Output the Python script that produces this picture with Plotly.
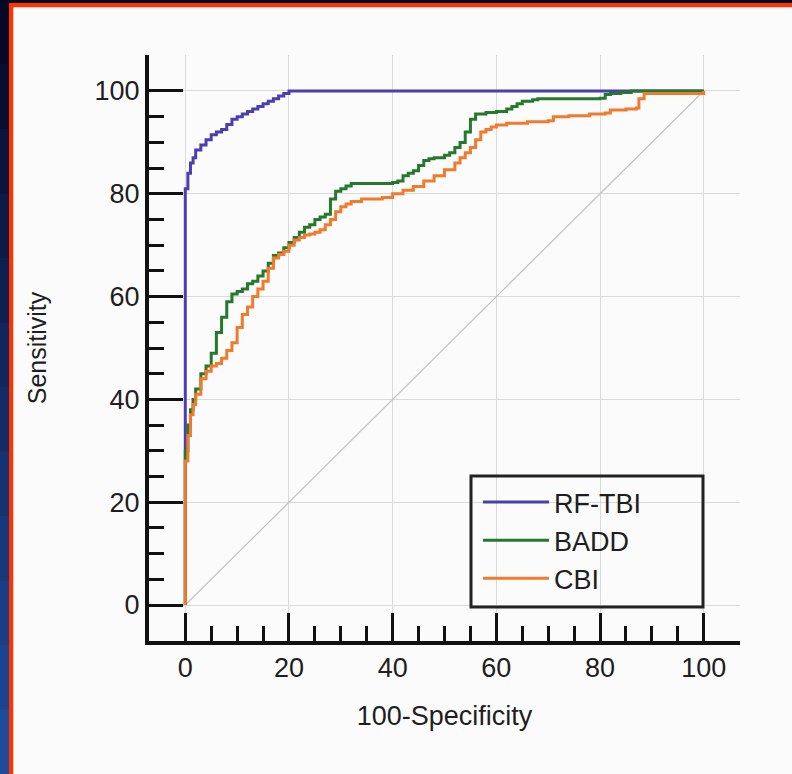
import plotly.graph_objects as go

# ---- data ----
rf_x = [0, 0, 0.5, 1, 1.5, 2, 3, 4, 5, 6, 7, 8, 9, 10, 11, 12, 13, 14, 15, 16, 17, 18, 19, 20, 100]
rf_y = [0, 81, 84, 86, 87, 88.5, 89.5, 90.5, 91.5, 92, 92.5, 93.5, 94.5, 95, 95.5, 96, 96.5, 97, 97.5, 98, 98.5, 99, 99.5, 100, 100]

badd_x = [0, 0, 0.5, 1, 1.5, 2, 3, 4, 5, 6, 7, 8, 9, 10, 11, 12, 13, 14, 15, 16, 17, 18, 19, 20,
          21, 22, 23, 24, 25, 26, 27, 28, 29, 30, 31, 32, 36, 40, 41, 42, 43, 44, 45, 46, 47, 48,
          50, 51, 52, 53, 54, 55, 56, 58, 60, 62, 63, 64, 65, 67, 68, 76, 80, 81, 82, 84, 86, 100]
badd_y = [0, 30, 35, 38, 40, 42, 45, 46.5, 49, 53, 56, 59, 60.5, 61, 61.5, 62.5, 63, 64, 65, 66.5, 68, 68.5, 69.5, 70.5,
          71.5, 72.5, 73.5, 74, 75, 75.5, 76, 79, 80.5, 81, 81.5, 82, 82, 82.2, 82.5, 83.5, 84, 84.5, 85.5, 86.5, 86.8, 87,
          87.5, 88, 89, 90, 92, 94.5, 95.5, 95.8, 96, 96.5, 97, 97.5, 98, 98.3, 98.5, 98.5, 98.6, 99.3, 99.5, 99.7, 100, 100]

cbi_x = [0, 0, 0.5, 1, 1.5, 2, 3, 4, 5, 6, 7, 8, 9, 10, 11, 12, 13, 14, 15, 16, 17, 18, 19, 20,
         21, 22, 23, 24, 25, 26, 27, 28, 29, 30, 31, 32, 34, 36, 38, 40, 42, 44, 46, 48, 50, 52,
         53, 54, 55, 56, 57, 58, 59, 60, 62, 66, 70, 71, 74, 78, 81, 82, 85, 87, 87.5, 88.5, 99, 100]
cbi_y = [0, 28, 33, 37, 39, 41, 44, 45.5, 46.5, 47, 48, 49.5, 51, 54, 56.5, 58, 60, 61.5, 63, 65.5, 67.5, 68.2, 68.8, 70,
         71, 71.5, 72, 72.2, 72.5, 73, 74, 75, 76.5, 77.5, 78, 78.5, 79, 79, 79.3, 80, 80.7, 81.4, 82.5, 83.5, 84.7, 86,
         87, 88, 89, 90.5, 92, 92.5, 93, 93.4, 93.7, 94, 94.2, 95, 95.2, 95.5, 95.7, 96.3, 96.5, 96.7, 98.5, 99.5, 99.5, 100]

diag_x = [0, 100]
diag_y = [0, 100]

names = ["RF-TBI", "BADD", "CBI"]
colors = ["#4b3fae", "#25792c", "#f07a2e"]

FONT = "Liberation Sans, Arial, sans-serif"
TXT = "#1e1e1e"

fig = go.Figure()
fig.add_trace(go.Scatter(x=diag_x, y=diag_y, mode="lines", showlegend=False,
                         line=dict(color="#c4c4c4", width=1.3), hoverinfo="skip"))
for xs, ys, nm, c in [(rf_x, rf_y, names[0], colors[0]),
                      (badd_x, badd_y, names[1], colors[1]),
                      (cbi_x, cbi_y, names[2], colors[2])]:
    fig.add_trace(go.Scatter(x=xs, y=ys, mode="lines", name=nm,
                             line=dict(color=c, width=3, shape="hv")))

# background decorations (paper coordinates)
L, R, T, B = 149, 740, 55, 641
W, H = 792, 774
pw, ph = R - L, B - T
def px(xp):
    return (xp - L) / pw
def py(yp):
    return 1 - (yp - T) / ph

shapes = []
# left gradient strip
n = 12
for i in range(n):
    f = i / (n - 1)
    r = int(6 + f * (30 - 6)); g = int(8 + f * (75 - 8)); b = int(40 + f * (155 - 40))
    shapes.append(dict(type="rect", xref="paper", yref="paper", layer="below",
                       x0=px(0), x1=px(10), y0=py(i * H / n), y1=py((i + 1) * H / n + 1),
                       fillcolor=f"rgb({r},{g},{b})", line=dict(width=0)))
# top dark strip
shapes.append(dict(type="rect", xref="paper", yref="paper", layer="below",
                   x0=px(0), x1=px(W), y0=py(0), y1=py(4),
                   fillcolor="#06081f", line=dict(width=0)))
# red frame (top + left)
shapes.append(dict(type="rect", xref="paper", yref="paper", layer="below",
                   x0=px(9), x1=px(W), y0=py(3), y1=py(7.5),
                   fillcolor="#ff3300", line=dict(width=0)))
shapes.append(dict(type="rect", xref="paper", yref="paper", layer="below",
                   x0=px(9), x1=px(13.5), y0=py(3), y1=py(H),
                   fillcolor="#ff3300", line=dict(width=0)))
# white panel
shapes.append(dict(type="rect", xref="paper", yref="paper", layer="below",
                   x0=px(13.5), x1=px(W), y0=py(7.5), y1=py(H),
                   fillcolor="#fbfbfb", line=dict(width=0)))
# legend box
shapes.append(dict(type="rect", xref="paper", yref="paper", layer="above",
                   x0=px(471), x1=px(703), y0=py(476), y1=py(607),
                   fillcolor="rgba(0,0,0,0)", line=dict(color="#222222", width=3)))

minor_vals = [v for v in range(5, 100, 5) if v % 20]

axis_common = dict(
    range=[-7, 107], showgrid=True, gridcolor="#dadada", gridwidth=1.3,
    zeroline=False, showline=True, linecolor="#111111", linewidth=4,
    ticks="inside", tickcolor="#111111", tickwidth=3,
    tickmode="array", tickvals=[0, 20, 40, 60, 80, 100],
    tickfont=dict(family=FONT, size=27, color=TXT),
    minor=dict(tickmode="array", tickvals=minor_vals, ticks="inside",
               ticklen=15, tickwidth=2.5, tickcolor="#111111", showgrid=False),
)

fig.update_layout(
    width=W, height=H,
    margin=dict(l=L, r=W - R, t=T, b=H - B, pad=0),
    paper_bgcolor="#fbfbfb",
    plot_bgcolor="rgba(0,0,0,0)",
    shapes=shapes,
    xaxis=dict(**axis_common, ticklen=28,
               title=dict(text="100-Specificity", font=dict(family=FONT, size=27, color=TXT), standoff=25)),
    yaxis=dict(**axis_common, ticklen=34,
               title=dict(text="Sensitivity", font=dict(family=FONT, size=25, color=TXT), standoff=42)),
    legend=dict(x=px(478), y=py(478), xanchor="left", yanchor="top",
                bgcolor="rgba(255,255,255,0)", borderwidth=0,
                font=dict(family=FONT, size=27, color=TXT),
                itemwidth=66, tracegroupgap=0),
    showlegend=True,
)

fig.write_html("out.html")
